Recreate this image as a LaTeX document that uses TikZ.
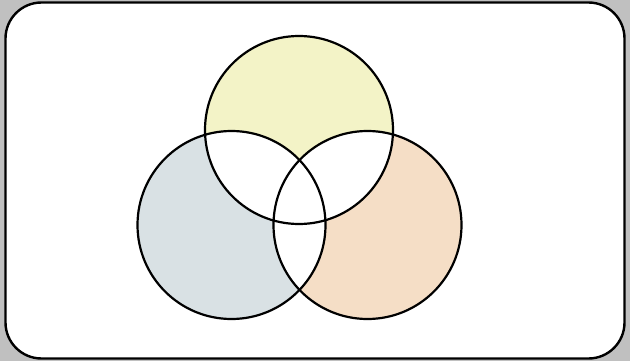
\documentclass[tikz,border=0pt]{standalone}
\usepackage{xcolor}
\usepackage{tikz}
\definecolor{bgcol}{RGB}{192,192,192}
\definecolor{topcol}{RGB}{243,243,199}
\definecolor{leftcol}{RGB}{217,225,228}
\definecolor{rightcol}{RGB}{245,222,198}
\tikzset{ring/.style={line width=2.2pt, draw=black}}

\begin{document}
\begin{tikzpicture}[x=1pt,y=-1pt]
  % background and frame
  \fill[bgcol] (0,0) rectangle (630,361);
  \useasboundingbox (0,0) rectangle (630,361);
  \draw[line width=2.4pt, fill=white, rounded corners=36pt] (5.5,2.5) rectangle (624.5,358.5);
  % circle centres
  \coordinate (ctop) at (299,130);
  \coordinate (cleft) at (231.5,225);
  \coordinate (cright) at (367.5,225);
  \def\rad{94}
  % coloured discs
  \fill[topcol] (ctop) circle (\rad);
  \fill[leftcol] (cleft) circle (\rad);
  \fill[rightcol] (cright) circle (\rad);
  % overlaps in white
  \begin{scope}
    \clip (ctop) circle (\rad);
    \fill[white] (cleft) circle (\rad);
    \fill[white] (cright) circle (\rad);
  \end{scope}
  \begin{scope}
    \clip (cleft) circle (\rad);
    \fill[white] (cright) circle (\rad);
  \end{scope}
  % outlines
  \draw[ring] (ctop) circle (\rad);
  \draw[ring] (cleft) circle (\rad);
  \draw[ring] (cright) circle (\rad);
\end{tikzpicture}
\end{document}
